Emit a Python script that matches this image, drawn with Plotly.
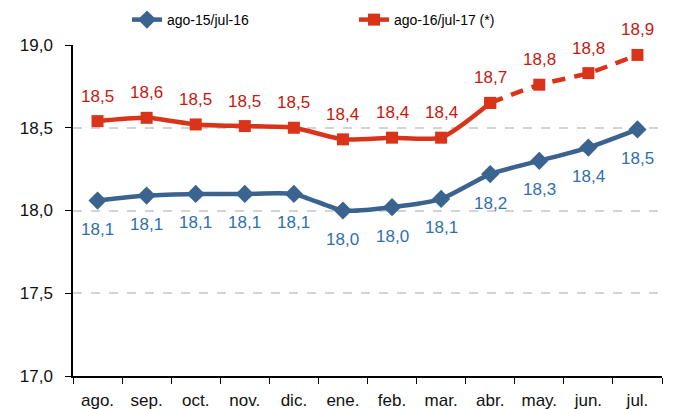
import plotly.graph_objects as go

months = ["ago.", "sep.", "oct.", "nov.", "dic.", "ene.", "feb.", "mar.", "abr.", "may.", "jun.", "jul."]
blue_vals = [18.06, 18.09, 18.10, 18.10, 18.10, 18.00, 18.02, 18.07, 18.22, 18.30, 18.38, 18.49]
red_vals = [18.54, 18.56, 18.52, 18.51, 18.50, 18.43, 18.44, 18.44, 18.65, 18.76, 18.83, 18.94]
blue_labels = ["18,1", "18,1", "18,1", "18,1", "18,1", "18,0", "18,0", "18,1", "18,2", "18,3", "18,4", "18,5"]
red_labels = ["18,5", "18,6", "18,5", "18,5", "18,5", "18,4", "18,4", "18,4", "18,7", "18,8", "18,8", "18,9"]
blue_name = "ago-15/jul-16"
red_name = "ago-16/jul-17 (*)"
split = 8  # index of abr. (start of dashed segment)

BLUE = "#3A6390"
RED = "#D9341A"
BLUE_TXT = "#2F6FAF"
RED_TXT = "#C8170E"
FONT = "Arial"

fig = go.Figure()
fig.add_trace(go.Scatter(
    x=months, y=blue_vals, name=blue_name, mode="lines+markers",
    line=dict(color=BLUE, width=4.5, shape="spline", smoothing=0.6),
    marker=dict(symbol="diamond", size=14, color=BLUE),
))
fig.add_trace(go.Scatter(
    x=months[:split + 1], y=red_vals[:split + 1], name=red_name, mode="lines+markers",
    line=dict(color=RED, width=4.5, shape="spline", smoothing=0.6),
    marker=dict(symbol="square", size=12, color=RED),
))
fig.add_trace(go.Scatter(
    x=months[split:], y=red_vals[split:], name=red_name, mode="lines+markers",
    showlegend=False,
    line=dict(color=RED, width=4.5, dash="13px,9px", shape="spline", smoothing=0.6),
    marker=dict(symbol="square", size=12, color=RED),
))

for m, v, t in zip(months, blue_vals, blue_labels):
    fig.add_annotation(x=m, y=v, text=t, showarrow=False, yshift=-29,
                       font=dict(family=FONT, size=17, color=BLUE_TXT))
for m, v, t in zip(months, red_vals, red_labels):
    fig.add_annotation(x=m, y=v, text=t, showarrow=False, yshift=25,
                       font=dict(family=FONT, size=17, color=RED_TXT))

fig.update_layout(
    width=676, height=409,
    margin=dict(l=65, r=22, t=37, b=41, autoexpand=False),
    paper_bgcolor="white", plot_bgcolor="white",
    separators=", ",
    font=dict(family=FONT, size=17, color="#111111"),
    showlegend=True,
    legend=dict(orientation="h", xref="container", x=119 / 676, xanchor="left",
                yref="container", y=1 - 12 / 409, yanchor="middle",
                font=dict(family=FONT, size=14, color="black"),
                entrywidth=182, entrywidthmode="pixels",
                bgcolor="rgba(0,0,0,0)", itemwidth=30),
)
fig.update_xaxes(
    type="category", tickson="boundaries", ticks="outside", ticklen=6,
    tickcolor="black", showline=True, linecolor="black", linewidth=1.5,
    showgrid=False, tickfont=dict(family=FONT, size=17, color="#111111"),
    range=[-0.5, 11.5], automargin=False, ticklabelstandoff=8,
)
fig.update_yaxes(
    range=[17, 19], dtick=0.5, tickformat=".1f", ticks="outside", ticklen=6,
    tickcolor="black", showline=True, linecolor="black", linewidth=1.5,
    showgrid=True, gridcolor="#D3D3D3", griddash="dash", gridwidth=1.5,
    zeroline=False, tickfont=dict(family=FONT, size=17, color="#111111"),
    automargin=False, ticklabelstandoff=9,
)

fig.write_html("out.html")
